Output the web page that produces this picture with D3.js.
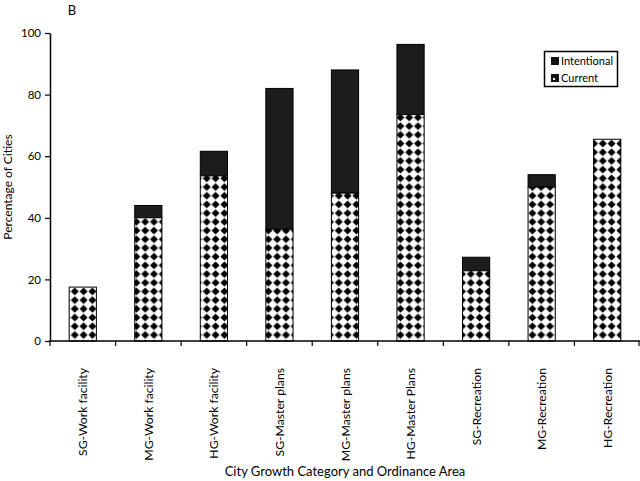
<!DOCTYPE html>
<html>
<head>
<meta charset="utf-8">
<script src="https://cdn.jsdelivr.net/npm/d3@7"></script>
<style>
  html, body { margin: 0; padding: 0; background: #fff; }
  svg { display: block; font-family: "Lato", "Open Sans", sans-serif; }
</style>
</head>
<body>
<svg id="chart" width="640" height="481"></svg>
<script>
const categories = ["SG-Work facility","MG-Work facility","HG-Work facility","SG-Master plans","MG-Master plans","HG-Master Plans","SG-Recreation","MG-Recreation","HG-Recreation"];
const current = [17.5, 40, 53.6, 36.3, 48, 73.5, 22.8, 50, 65.5];
const intentional = [0, 4, 8, 45.7, 40, 22.8, 4.4, 4, 0];
const yTicks = [0, 20, 40, 60, 80, 100];
const seriesNames = ["Intentional", "Current"];

const svg = d3.select("#chart");
const x = d3.scaleBand().domain(categories).range([50, 640]).paddingInner(0).paddingOuter(0);
const y = d3.scaleLinear().domain([0, 100]).range([341, 33]);
const barW = x.bandwidth() * 0.415;

const defs = svg.append("defs");
const pat = defs.append("pattern").attr("id", "diam").attr("patternUnits", "userSpaceOnUse")
  .attr("width", 8.8).attr("height", 8.7);
pat.append("rect").attr("width", 8.8).attr("height", 8.7).attr("fill", "#fff");
pat.append("path").attr("d", "M4.4,0.4 L8.4,4.35 L4.4,8.3 L0.4,4.35 Z").attr("fill", "#000");

// bars
const g = svg.append("g");
categories.forEach((c, i) => {
  const x0 = x(c) + (x.bandwidth() - barW) / 2;
  if (intentional[i] > 0) {
    g.append("rect").attr("x", x0).attr("width", barW)
      .attr("y", y(current[i] + intentional[i]))
      .attr("height", y(current[i]) - y(current[i] + intentional[i]))
      .attr("fill", "#1c1c1c").attr("stroke", "#000").attr("stroke-width", 1);
  }
  g.append("rect").attr("x", x0).attr("width", barW)
    .attr("y", y(current[i])).attr("height", y(0) - y(current[i]))
    .attr("fill", "url(#diam)").attr("stroke", "#000").attr("stroke-width", 1);
});

// y axis
const yAxis = d3.axisLeft(y).tickValues(yTicks).tickSize(5).tickPadding(4).tickSizeOuter(0);
const ya = svg.append("g").attr("transform", "translate(50,0)").call(yAxis);
ya.select(".domain").attr("stroke", "#000").attr("stroke-width", 1.5);
ya.selectAll(".tick line").attr("stroke", "#000").attr("stroke-width", 1.2);
ya.selectAll(".tick text").attr("font-size", 11.5).attr("fill", "#000").attr("font-family", "Lato, sans-serif");

// x axis
svg.append("line").attr("x1", 49).attr("x2", 640).attr("y1", y(0)).attr("y2", y(0))
  .attr("stroke", "#000").attr("stroke-width", 1.5);
const bounds = categories.map(c => x(c)).concat([x.range()[1] - 1]);
svg.selectAll(".xtick").data(bounds).enter().append("line")
  .attr("x1", d => d).attr("x2", d => d).attr("y1", y(0)).attr("y2", y(0) + 5)
  .attr("stroke", "#000").attr("stroke-width", 1.2);
svg.selectAll(".xlab").data(categories).enter().append("text")
  .attr("transform", d => `translate(${x(d) + x.bandwidth() / 2 + 4.5},368) rotate(-90)`)
  .attr("text-anchor", "end").attr("font-size", 12.2).attr("fill", "#000")
  .text(d => d);

// axis titles
svg.append("text").attr("x", 345).attr("y", 476).attr("text-anchor", "middle")
  .attr("font-size", 13).attr("fill", "#000").text("City Growth Category and Ordinance Area");
svg.append("text").attr("transform", "translate(12,187) rotate(-90)").attr("text-anchor", "middle")
  .attr("font-size", 12).attr("fill", "#000").text("Percentage of Cities");
svg.append("text").attr("x", 72).attr("y", 15).attr("text-anchor", "middle")
  .attr("font-size", 13).attr("fill", "#000").text("B");

// legend
const lg = svg.append("g");
lg.append("rect").attr("x", 544.5).attr("y", 51.5).attr("width", 73).attr("height", 35)
  .attr("fill", "#fff").attr("stroke", "#000").attr("stroke-width", 1.5);
seriesNames.forEach((s, i) => {
  const yy = 57 + i * 17;
  lg.append("rect").attr("x", 551).attr("y", yy).attr("width", 8).attr("height", 8).attr("fill", "#111");
  if (s === "Current") {
    lg.append("rect").attr("x", 553).attr("y", yy + 4).attr("width", 2).attr("height", 2).attr("fill", "#fff");
  }
  lg.append("text").attr("x", 561).attr("y", yy + 8).attr("font-size", 11).attr("fill", "#000").text(s);
});
</script>
</body>
</html>
